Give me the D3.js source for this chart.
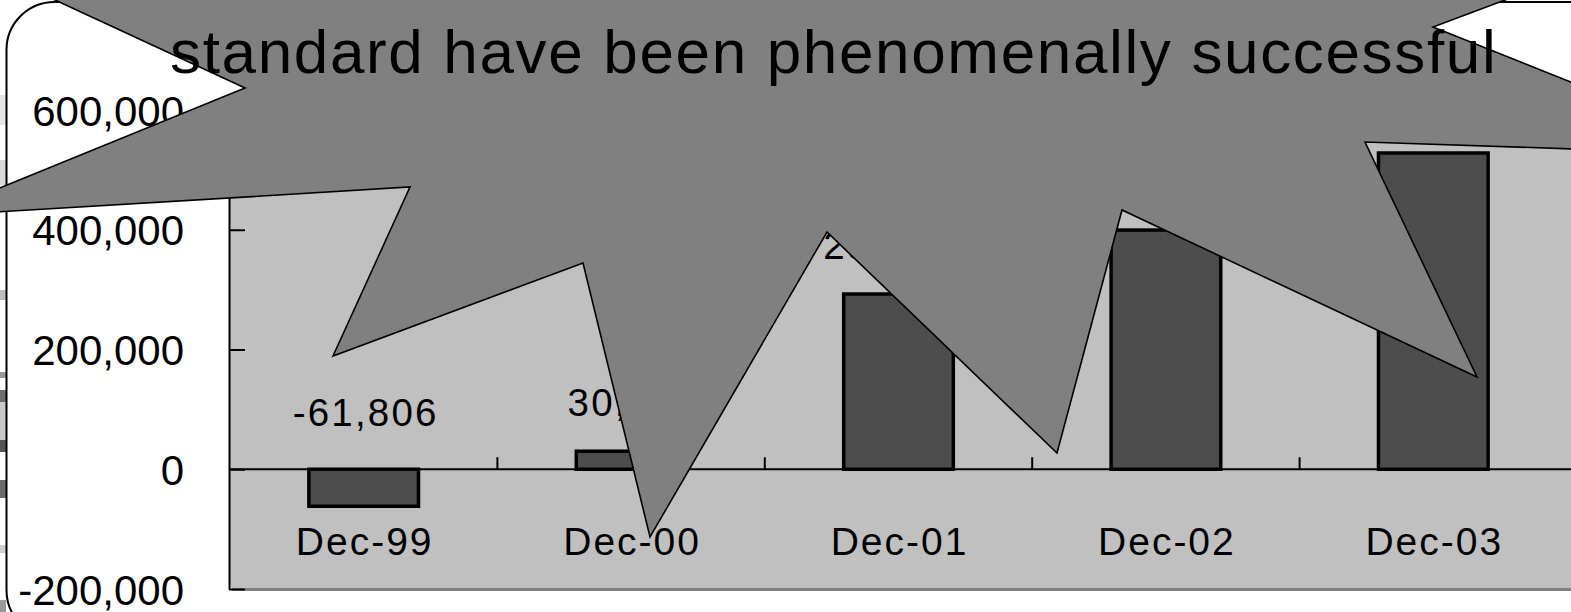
<!DOCTYPE html>
<html>
<head>
<meta charset="utf-8">
<script src="https://cdn.jsdelivr.net/npm/d3@7"></script>
<style>
  body { margin: 0; background: #fff; overflow: hidden; }
  text { font-family: "Liberation Sans", Arial, sans-serif; fill: #000; }
</style>
</head>
<body>
<svg id="chart" width="1571" height="612"></svg>
<script>
// Yearly results, December of each year
const categories = ["Dec-99", "Dec-00", "Dec-01", "Dec-02", "Dec-03"];
const values = [-61806, 30128, 292650, 399480, 528190];
const yTickValues = [-200000, 0, 200000, 400000, 600000];
const headline = "standard have been phenomenally successful";

const W = 1571, H = 612;
const svg = d3.select("#chart");

const x = d3.scaleBand().domain(categories).range([230, 1567]);
const y = d3.scaleLinear().domain([-200000, 600000]).range([589, 110]);
// thousands separators, plain hyphen for negatives
const fmt = d => d3.format(",")(d).replace("\u2212", "-");
const barWidth = x.bandwidth() * 0.41;

// scraps of the slide behind, peeking out at the far left
const scraps = svg.append("g");
[[95, 30, "#e6e6e6"], [160, 25, "#d9d9d9"], [290, 10, "#bdbdbd"], [372, 6, "#9a9a9a"],
 [390, 12, "#6e6e6e"], [402, 38, "#c8c8c8"], [440, 12, "#555"], [480, 18, "#6a6a6a"],
 [545, 8, "#cfcfcf"], [600, 12, "#9a9a9a"]].forEach(([yy, h, c]) => {
  scraps.append("rect").attr("x", 0).attr("y", yy).attr("width", 6).attr("height", h).attr("fill", c);
});

// white rounded panel
svg.append("rect")
  .attr("x", 6.5).attr("y", 2).attr("width", 1700).attr("height", 636)
  .attr("rx", 48).attr("ry", 48)
  .attr("fill", "#fff").attr("stroke", "#000").attr("stroke-width", 2);

// plot area with its drop shadow
const plotTop = y(600000), plotBottom = y(-200000) - 1;
svg.append("rect")
  .attr("x", 232).attr("y", plotTop + 3).attr("width", 1500).attr("height", plotBottom - plotTop)
  .attr("fill", "#808080");
svg.append("rect")
  .attr("x", 229).attr("y", plotTop).attr("width", 1500).attr("height", plotBottom - plotTop)
  .attr("fill", "#c0c0c0");

// value axis
const yAxis = svg.append("g")
  .attr("transform", "translate(229,0)")
  .call(d3.axisLeft(y).tickValues(yTickValues).tickFormat(fmt)
    .tickSize(-16).tickSizeOuter(0).tickPadding(45));
yAxis.select(".domain").attr("stroke", "#000").attr("stroke-width", 2);
yAxis.selectAll(".tick line").attr("stroke", "#000").attr("stroke-width", 2);
yAxis.selectAll(".tick text")
  .attr("dy", "0.36em")
  .style("font-family", "'Liberation Sans', Arial, sans-serif")
  .style("font-size", "42px").attr("fill", "#000");

// bars
svg.append("g").selectAll("rect")
  .data(values)
  .join("rect")
  .attr("x", (d, i) => x(categories[i]) + (x.bandwidth() - barWidth) / 2)
  .attr("y", d => y(Math.max(0, d)))
  .attr("width", barWidth)
  .attr("height", d => Math.abs(y(d) - y(0)))
  .attr("fill", "#4d4d4d")
  .attr("stroke", "#000")
  .attr("stroke-width", 3.5);

// category axis line and tick marks between categories
svg.append("line")
  .attr("x1", 229).attr("x2", W).attr("y1", y(0)).attr("y2", y(0))
  .attr("stroke", "#000").attr("stroke-width", 2);
svg.append("g").selectAll("line")
  .data(categories.slice(1))
  .join("line")
  .attr("x1", d => x(d)).attr("x2", d => x(d))
  .attr("y1", y(0)).attr("y2", y(0) - 12)
  .attr("stroke", "#000").attr("stroke-width", 2);

// category labels
svg.append("g").selectAll("text")
  .data(categories)
  .join("text")
  .attr("x", d => x(d) + x.bandwidth() / 2 + 1)
  .attr("y", 555)
  .attr("text-anchor", "middle")
  .style("font-size", "39px")
  .style("letter-spacing", "2px")
  .text(d => d);

// value labels
svg.append("g").selectAll("text")
  .data(values)
  .join("text")
  .attr("x", (d, i) => x(categories[i]) + x.bandwidth() / 2 + 2)
  .attr("y", d => d >= 0 ? y(d) - 35 : y(0) - 43)
  .attr("text-anchor", "middle")
  .style("font-size", "38.5px")
  .style("letter-spacing", "2.2px")
  .text(d => fmt(d));

// starburst callout
const burst = [
  [20, -16.2], [55, 0], [245, 88], [-69, 216], [410, 187], [333, 356], [583, 263],
  [650, 537], [827, 232], [1057, 453], [1122, 210], [1477, 377], [1365, 142],
  [1754, 155], [1433, 27], [1505, 0], [1580, -28]
];
svg.append("path")
  .attr("d", d3.line()(burst) + "Z")
  .attr("fill", "#808080")
  .attr("stroke", "#000")
  .attr("stroke-width", 1.6)
  .attr("stroke-linejoin", "miter");

svg.append("text")
  .attr("x", 170).attr("y", 73)
  .style("font-size", "62px")
  .style("letter-spacing", "1.65px")
  .text(headline);
</script>
</body>
</html>
